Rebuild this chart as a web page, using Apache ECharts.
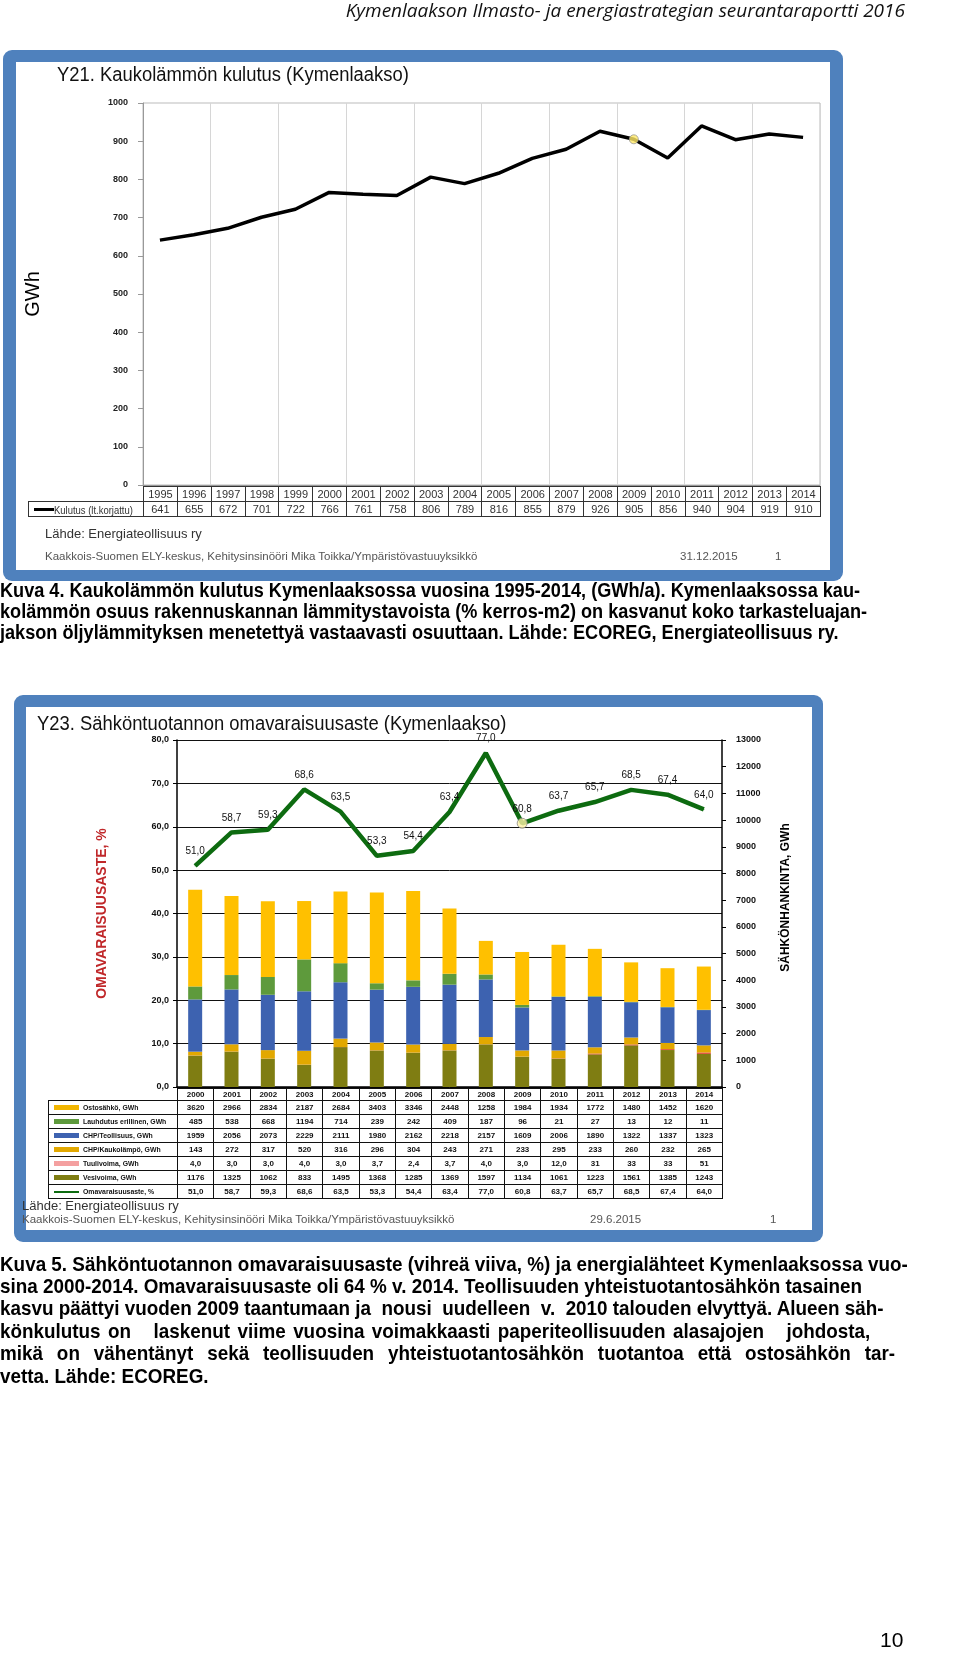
<!DOCTYPE html>
<html><head><meta charset="utf-8">
<script src="https://cdn.jsdelivr.net/npm/echarts@6/dist/echarts.min.js"></script>
<style>
body{margin:0;width:960px;height:1665px;position:relative;background:#fff;font-family:"Liberation Sans",Arial,sans-serif;overflow:hidden}
.abs{position:absolute;white-space:pre}
.frame{position:absolute;background:#4f81bd;border-radius:9px}
.inner{position:absolute;background:#fff}
#chart{position:absolute;left:0;top:0;width:960px;height:1665px;z-index:2}
.over{z-index:3}
.narrow{transform-origin:0 0}
table{border-collapse:collapse;table-layout:fixed;position:absolute;z-index:3}
td{padding:0;text-align:center;overflow:hidden;white-space:nowrap}
.cap{position:absolute;left:0;font-family:"Liberation Sans",Arial,sans-serif;font-weight:bold;font-size:20px;line-height:21px;color:#000;white-space:pre;z-index:3;transform:scaleX(0.906);transform-origin:0 0}
.cap2{position:absolute;left:0;font-family:"Liberation Sans",Arial,sans-serif;font-weight:bold;font-size:20.5px;line-height:22px;color:#000;white-space:pre;z-index:3;transform:scaleX(0.92);transform-origin:0 0}
.just{white-space:normal;text-align:justify;text-align-last:justify;word-spacing:0}
.lg{display:inline-block;transform:scaleX(0.86);transform-origin:0 50%;vertical-align:middle}
</style></head>
<body>
<div class="abs over" style="right:55px;top:-3px;font-family:'Open Sans',sans-serif;font-style:italic;font-size:19px;color:#111">Kymenlaakson Ilmasto- ja energiastrategian seurantaraportti 2016</div>

<div class="frame" style="left:3px;top:50px;width:840px;height:531px"></div>
<div class="inner" style="left:16px;top:62px;width:814px;height:508px"></div>
<div class="abs over narrow" style="left:57px;top:63px;font-size:20px;color:#111;transform:scaleX(0.92)">Y21. Kaukolämmön kulutus (Kymenlaakso)</div>
<div class="abs over" style="left:45px;top:526px;font-size:13px;color:#333">Lähde: Energiateollisuus ry</div>
<div class="abs over" style="left:45px;top:550px;font-size:11.5px;color:#555">Kaakkois-Suomen ELY-keskus, Kehitysinsinööri Mika Toikka/Ympäristövastuuyksikkö</div>
<div class="abs over" style="left:680px;top:550px;font-size:11.5px;color:#555">31.12.2015</div>
<div class="abs over" style="left:775px;top:550px;font-size:11.5px;color:#555">1</div>

<div class="cap" style="top:580px">Kuva 4. Kaukolämmön kulutus Kymenlaaksossa vuosina 1995-2014, (GWh/a). Kymenlaaksossa kau-</div>
<div class="cap" style="top:601px">kolämmön osuus rakennuskannan lämmitystavoista (% kerros-m2) on kasvanut koko tarkasteluajan-</div>
<div class="cap" style="top:622px">jakson öljylämmityksen menetettyä vastaavasti osuuttaan. Lähde: ECOREG, Energiateollisuus ry.</div>

<div class="frame" style="left:14px;top:695px;width:809px;height:547px"></div>
<div class="inner" style="left:26px;top:707px;width:786px;height:523px"></div>
<div class="abs over narrow" style="left:37px;top:712px;font-size:20px;color:#111;transform:scaleX(0.92)">Y23. Sähköntuotannon omavaraisuusaste (Kymenlaakso)</div>
<div class="abs over" style="left:22px;top:1198px;font-size:13px;color:#333">Lähde: Energiateollisuus ry</div>
<div class="abs over" style="left:22px;top:1213px;font-size:11.5px;color:#555">Kaakkois-Suomen ELY-keskus, Kehitysinsinööri Mika Toikka/Ympäristövastuuyksikkö</div>
<div class="abs over" style="left:590px;top:1213px;font-size:11.5px;color:#555">29.6.2015</div>
<div class="abs over" style="left:770px;top:1213px;font-size:11.5px;color:#555">1</div>

<div class="cap2" style="top:1253px">Kuva 5. Sähköntuotannon omavaraisuusaste (vihreä viiva, %) ja energialähteet Kymenlaaksossa vuo-</div>
<div class="cap2" style="top:1275px">sina 2000-2014. Omavaraisuusaste oli 64 % v. 2014. Teollisuuden yhteistuotantosähkön tasainen</div>
<div class="cap2" style="top:1297px">kasvu päättyi vuoden 2009 taantumaan ja  nousi  uudelleen  v.  2010 talouden elvyttyä. Alueen säh-</div>
<div class="cap2 just" style="top:1320px;width:946px">könkulutus on&nbsp;&nbsp; laskenut viime vuosina voimakkaasti paperiteollisuuden alasajojen&nbsp;&nbsp; johdosta,</div>
<div class="cap2 just" style="top:1342px;width:973px">mikä on vähentänyt sekä teollisuuden yhteistuotantosähkön tuotantoa että ostosähkön tar-</div>
<div class="cap2" style="top:1365px">vetta. Lähde: ECOREG.</div>

<div class="abs over" style="left:880px;top:1628px;font-size:21px;color:#000">10</div>

<div id="chart"></div>
<table id="t1"></table>
<table id="t2"></table>

<script>
// ---- Data: chart Y21 ----
const years1 = [1995,1996,1997,1998,1999,2000,2001,2002,2003,2004,2005,2006,2007,2008,2009,2010,2011,2012,2013,2014];
const kulutus = [641,655,672,701,722,766,761,758,806,789,816,855,879,926,905,856,940,904,919,910];
const kulutusName = 'Kulutus (lt.korjattu)';
const yTicks1 = [0,100,200,300,400,500,600,700,800,900,1000];
const highlightYear = 2009;

// ---- Data: chart Y23 ----
const years2 = [2000,2001,2002,2003,2004,2005,2006,2007,2008,2009,2010,2011,2012,2013,2014];
const ostosahko  = [3620,2966,2834,2187,2684,3403,3346,2448,1258,1984,1934,1772,1480,1452,1620];
const lauhdutus  = [485,538,668,1194,714,239,242,409,187,96,21,27,13,12,11];
const chpTeoll   = [1959,2056,2073,2229,2111,1980,2162,2218,2157,1609,2006,1890,1322,1337,1323];
const chpKauko   = [143,272,317,520,316,296,304,243,271,233,295,233,260,232,265];
const tuulivoima = [4.0,3.0,3.0,4.0,3.0,3.7,2.4,3.7,4.0,3.0,12.0,31,33,33,51];
const vesivoima  = [1176,1325,1062,833,1495,1368,1285,1369,1597,1134,1061,1223,1561,1385,1243];
const omavarais  = [51.0,58.7,59.3,68.6,63.5,53.3,54.4,63.4,77.0,60.8,63.7,65.7,68.5,67.4,64.0];
const leftTicks2 = [0,10,20,30,40,50,60,70,80];
const rightTicks2 = [0,1000,2000,3000,4000,5000,6000,7000,8000,9000,10000,11000,12000,13000];

const C = {ost:'#ffc000', lau:'#5e9a3c', teo:'#3d62b0', kau:'#e2a800', tuu:'#e03a2a', ves:'#7f7d12', oma:'#0d6b10'};

// stack order bottom -> top
const stackSeries = [
  {name:'Vesivoima, GWh', data:vesivoima, color:C.ves},
  {name:'Tuulivoima, GWh', data:tuulivoima, color:C.tuu},
  {name:'CHP/Kaukolämpö, GWh', data:chpKauko, color:C.kau},
  {name:'CHP/Teollisuus, GWh', data:chpTeoll, color:C.teo},
  {name:'Lauhdutus erillinen, GWh', data:lauhdutus, color:C.lau},
  {name:'Ostosähkö, GWh', data:ostosahko, color:C.ost}
];
// table order
const tableRows = [
  {name:'Ostosähkö, GWh', data:ostosahko, sw:'#f2b600', fmt:v=>String(v)},
  {name:'Lauhdutus erillinen, GWh', data:lauhdutus, sw:'#5e9a3c', fmt:v=>String(v)},
  {name:'CHP/Teollisuus, GWh', data:chpTeoll, sw:'#3d62b0', fmt:v=>String(v)},
  {name:'CHP/Kaukolämpö, GWh', data:chpKauko, sw:'#e2a800', fmt:v=>String(v)},
  {name:'Tuulivoima, GWh', data:tuulivoima, sw:'#f4a0a0', fmt:v=> v<20 ? v.toFixed(1).replace('.',',') : String(v)},
  {name:'Vesivoima, GWh', data:vesivoima, sw:'#7f7d12', fmt:v=>String(v)},
  {name:'Omavaraisuusaste, %', data:omavarais, sw:C.oma, fmt:v=>v.toFixed(1).replace('.',','), line:true}
];

const G1 = {left:143, top:103, width:677, height:382};
const G2 = {left:177, top:740, width:545, height:347};
const comma1 = v => Number(v).toFixed(1).replace('.',',');
const plain = v => String(v);

const chart = echarts.init(document.getElementById('chart'), null, {renderer:'canvas'});
const series = [
  {type:'line', xAxisIndex:0, yAxisIndex:0, name:kulutusName, data:kulutus, symbol:'none',
   lineStyle:{color:'#000', width:3.5}, itemStyle:{color:'#000'}, z:5},
  {type:'scatter', xAxisIndex:0, yAxisIndex:0, data:kulutus.map((v,i)=>years1[i]===highlightYear?v:'-'),
   symbol:'circle', symbolSize:9, itemStyle:{color:'#ffe866', borderColor:'#999', borderWidth:1}, z:6}
];
stackSeries.forEach(s=>series.push({
  type:'bar', xAxisIndex:1, yAxisIndex:2, stack:'tot', name:s.name, data:s.data, barWidth:14,
  itemStyle:{color:s.color}
}));
series.push({type:'line', xAxisIndex:1, yAxisIndex:1, name:'Omavaraisuusaste, %', data:omavarais,
  symbol:'circle', symbolSize:1, lineStyle:{color:C.oma, width:4.5}, itemStyle:{color:C.oma}, z:5,
  label:{show:true, position:'top', distance:9, formatter:p=>comma1(p.value), fontSize:10, color:'#111'}});
series.push({type:'scatter', xAxisIndex:1, yAxisIndex:1, data:omavarais.map((v,i)=>years2[i]===highlightYear?v:'-'),
  symbol:'circle', symbolSize:10, itemStyle:{color:'#fff3a6', borderColor:'#888', borderWidth:1}, z:6});

chart.setOption({
  animation:false,
  textStyle:{fontFamily:'Liberation Sans, Arial, sans-serif'},
  grid:[
    Object.assign({show:true, borderColor:'#bbb', borderWidth:1}, G1),
    Object.assign({}, G2)
  ],
  xAxis:[
    {gridIndex:0, type:'category', data:years1, boundaryGap:true, axisLabel:{show:false}, axisTick:{show:false},
     axisLine:{lineStyle:{color:'#999'}}, splitLine:{show:true, lineStyle:{color:'#d6d6d6'}}},
    {gridIndex:1, type:'category', data:years2, boundaryGap:true, axisLabel:{show:false}, axisTick:{show:false},
     axisLine:{lineStyle:{color:'#000', width:1.5}}, splitLine:{show:false}}
  ],
  yAxis:[
    {gridIndex:0, type:'value', min:yTicks1[0], max:yTicks1[yTicks1.length-1], interval:yTicks1[1]-yTicks1[0],
     name:'GWh', nameLocation:'middle', nameGap:100, nameRotate:90, nameTextStyle:{fontSize:20, color:'#000'},
     axisLine:{show:true, lineStyle:{color:'#999'}}, axisTick:{show:true, length:5, lineStyle:{color:'#999'}},
     axisLabel:{fontSize:9, fontWeight:'bold', color:'#222', margin:15, formatter:plain}, splitLine:{show:false}},
    {gridIndex:1, type:'value', min:leftTicks2[0], max:leftTicks2[leftTicks2.length-1], interval:leftTicks2[1]-leftTicks2[0],
     name:'OMAVARAISUUSASTE, %', nameLocation:'middle', nameGap:68, nameRotate:90,
     nameTextStyle:{fontSize:14, fontWeight:'bold', color:'#c0282a'},
     axisLine:{show:true, lineStyle:{color:'#000', width:1.5}}, axisTick:{show:true, length:4, lineStyle:{color:'#000'}},
     axisLabel:{fontSize:9, fontWeight:'bold', color:'#111', margin:8, formatter:comma1},
     splitLine:{show:true, lineStyle:{color:'#111', width:1}}},
    {gridIndex:1, type:'value', position:'right', min:rightTicks2[0], max:rightTicks2[rightTicks2.length-1], interval:rightTicks2[1]-rightTicks2[0],
     name:'SÄHKÖNHANKINTA, GWh', nameLocation:'middle', nameGap:58, nameRotate:90,
     nameTextStyle:{fontSize:12, fontWeight:'bold', color:'#000', padding:[0,0,0,32]},
     axisLine:{show:true, lineStyle:{color:'#000', width:1.5}}, axisTick:{show:true, length:4, inside:false, lineStyle:{color:'#000'}},
     axisLabel:{fontSize:9, fontWeight:'bold', color:'#111', margin:14, formatter:plain}, splitLine:{show:false}}
  ],
  series:series
});

// ---- Table 1 ----
(function(){
  const t = document.getElementById('t1');
  const legW = G1.left - 28, cw = G1.width / years1.length;
  t.style.left = '28px'; t.style.top = (G1.top + G1.height + 1) + 'px';
  t.style.width = (legW + G1.width) + 'px';
  let cg = '<colgroup><col style="width:'+legW+'px">' + years1.map(()=>'<col style="width:'+cw+'px">').join('') + '</colgroup>';
  const cs = 'border:1px solid #333;font-size:11px;color:#333;height:14px;';
  let r1 = '<tr><td style="height:14px"></td>' + years1.map(y=>'<td style="'+cs+'">'+y+'</td>').join('') + '</tr>';
  let r2 = '<tr><td style="'+cs+'text-align:left"><span style="display:inline-block;width:20px;height:3px;background:#000;vertical-align:middle;margin:0 0 0 5px"></span><span class="lg" style="font-size:11px">'+kulutusName+'</span></td>' +
    kulutus.map(v=>'<td style="'+cs+'">'+v+'</td>').join('') + '</tr>';
  t.innerHTML = cg + r1 + r2;
})();

// ---- Table 2 ----
(function(){
  const t = document.getElementById('t2');
  const L = 48, legW = G2.left - L, cw = G2.width / years2.length;
  t.style.left = L + 'px'; t.style.top = (G2.top + G2.height + 1) + 'px';
  t.style.width = (legW + G2.width) + 'px';
  let cg = '<colgroup><col style="width:'+legW+'px">' + years2.map(()=>'<col style="width:'+cw+'px">').join('') + '</colgroup>';
  const cs = 'border:1px solid #111;font-size:8px;font-weight:bold;color:#111;height:13px;';
  let html = cg + '<tr><td style="height:11px"></td>' + years2.map(y=>'<td style="'+cs+'height:11px">'+y+'</td>').join('') + '</tr>';
  tableRows.forEach(r=>{
    const sw = r.line
      ? '<span style="display:inline-block;width:25px;height:2px;background:'+r.sw+';vertical-align:middle;margin:0 4px 0 5px"></span>'
      : '<span style="display:inline-block;width:25px;height:5px;background:'+r.sw+';vertical-align:middle;margin:0 4px 0 5px"></span>';
    html += '<tr><td style="'+cs+'text-align:left">'+sw+'<span class="lg">'+r.name+'</span></td>' +
      r.data.map(v=>'<td style="'+cs+'">'+r.fmt(v)+'</td>').join('') + '</tr>';
  });
  t.innerHTML = html;
})();
</script>
</body></html>
